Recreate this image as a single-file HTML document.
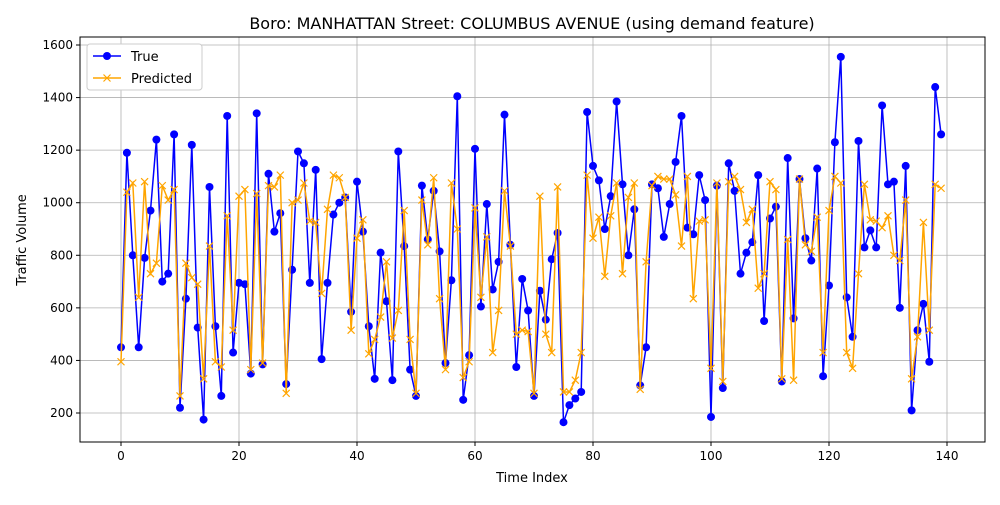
<!DOCTYPE html>
<html><head><meta charset="utf-8"><style>
body{margin:0;background:#fff;font-family:"Liberation Sans","DejaVu Sans",sans-serif}
</style></head><body>
<svg id="chart" width="1000" height="500" xmlns="http://www.w3.org/2000/svg" font-family="DejaVu Sans, Liberation Sans, sans-serif">
<rect width="1000" height="500" fill="#fff"/>
<text x="532" y="29" font-size="16" text-anchor="middle">Boro: MANHATTAN Street: COLUMBUS AVENUE (using demand feature)</text>
<g id="grid"></g><g id="series"></g><g id="axes"></g>
<text x="532" y="482" font-size="13" text-anchor="middle">Time Index</text>
<text x="26" y="240" font-size="13" text-anchor="middle" transform="rotate(-90 26 240)">Traffic Volume</text>
<g>
<rect x="87" y="44" width="115" height="46" fill="#fff" stroke="#ccc" rx="3"/>
<line x1="93" y1="56" x2="121" y2="56" stroke="blue" stroke-width="1.5"/><circle cx="107" cy="56" r="4" fill="blue"/>
<text x="131" y="61" font-size="13">True</text>
<line x1="93" y1="78" x2="121" y2="78" stroke="orange" stroke-width="1.5"/>
<path d="M103.5 74.5l7 7M110.5 74.5l-7 7" stroke="orange" stroke-width="1.2"/>
<text x="131" y="83" font-size="13">Predicted</text>
</g>
</svg>
<script>
const trueVals=[450,1190,800,450,790,970,1240,700,730,1260,220,635,1220,525,175,1060,530,265,1330,430,695,690,350,1340,385,1110,890,960,310,745,1195,1150,695,1125,405,695,955,1000,1020,585,1080,890,530,330,810,625,325,1195,835,365,265,1065,860,1045,815,390,705,1405,250,420,1205,605,995,670,775,1335,840,375,710,590,265,665,555,785,885,165,230,255,280,1345,1140,1085,900,1025,1385,1070,800,975,305,450,1070,1055,870,995,1155,1330,905,880,1105,1010,185,1065,295,1150,1045,730,810,850,1105,550,940,985,320,1170,560,1090,865,780,1130,340,685,1230,1555,640,490,1235,830,895,830,1370,1070,1080,600,1140,210,515,615,395,1440,1260];
const predVals=[395,1040,1075,640,1080,730,770,1065,1010,1050,265,770,715,690,330,835,395,375,950,515,1025,1050,365,1035,390,1065,1060,1105,275,1000,1010,1075,930,925,655,975,1105,1095,1020,515,865,935,425,480,565,775,485,590,970,480,275,1010,840,1095,635,365,1075,900,335,395,980,640,870,430,590,1045,835,500,515,510,275,1025,500,430,1060,280,280,325,430,1105,865,945,720,950,1075,730,1020,1075,290,775,1065,1100,1090,1090,1030,835,1100,635,930,935,370,1075,320,1080,1100,1050,925,975,675,730,1080,1050,330,860,325,1090,840,815,945,430,970,1100,1075,430,370,730,1070,935,930,905,950,800,780,1010,330,490,925,515,1070,1055];
const xTicks=[0,20,40,60,80,100,120,140];
const yTicks=[200,400,600,800,1000,1200,1400,1600];
const L=80,R=985,T=37,B=442;
const xs=i=>121+i*5.9;
const ys=v=>413-(v-200)*(368/1400);
const NS="http://www.w3.org/2000/svg";
function mk(t,a,p){const e=document.createElementNS(NS,t);for(const k in a)e.setAttribute(k,a[k]);p.appendChild(e);return e;}
const grid=document.getElementById('grid'),axes=document.getElementById('axes'),ser=document.getElementById('series');
xTicks.forEach(t=>{const x=xs(t);
 const g=mk('line',{x1:x,x2:x,y1:T,y2:B,stroke:'#b0b0b0','stroke-width':0.8},grid);
 
 mk('line',{x1:x,x2:x,y1:B,y2:B+4,stroke:'#000'},axes);
 const l=mk('text',{x:x,y:B+18,'font-size':12,'text-anchor':'middle'},axes);l.textContent=t;
 });
yTicks.forEach(t=>{const y=ys(t);
 const g=mk('line',{x1:L,x2:R,y1:y,y2:y,stroke:'#b0b0b0','stroke-width':0.8},grid);
 
 mk('line',{x1:L-4,x2:L,y1:y,y2:y,stroke:'#000'},axes);
 const l=mk('text',{x:L-7,y:y+4,'font-size':12,'text-anchor':'end'},axes);l.textContent=t;
 });
const fr=mk('rect',{x:L,y:T,width:R-L,height:B-T,fill:'none',stroke:'#000','stroke-width':1},axes);

const pt=trueVals.map((v,i)=>xs(i)+','+ys(v)).join(' ');
const l1=mk('polyline',{points:pt,fill:'none',stroke:'blue','stroke-width':1.5},ser);

trueVals.forEach((v,i)=>{const c=mk('circle',{cx:xs(i),cy:ys(v),r:4,fill:'blue'},ser);
 });
const pp=predVals.map((v,i)=>xs(i)+','+ys(v)).join(' ');
const l2=mk('polyline',{points:pp,fill:'none',stroke:'orange','stroke-width':1.5},ser);

predVals.forEach((v,i)=>{const x=xs(i),y=ys(v);
 const m=mk('path',{d:`M${x-3.5} ${y-3.5}l7 7M${x+3.5} ${y-3.5}l-7 7`,stroke:'orange','stroke-width':1.2},ser);
 });
</script>
</body></html>
